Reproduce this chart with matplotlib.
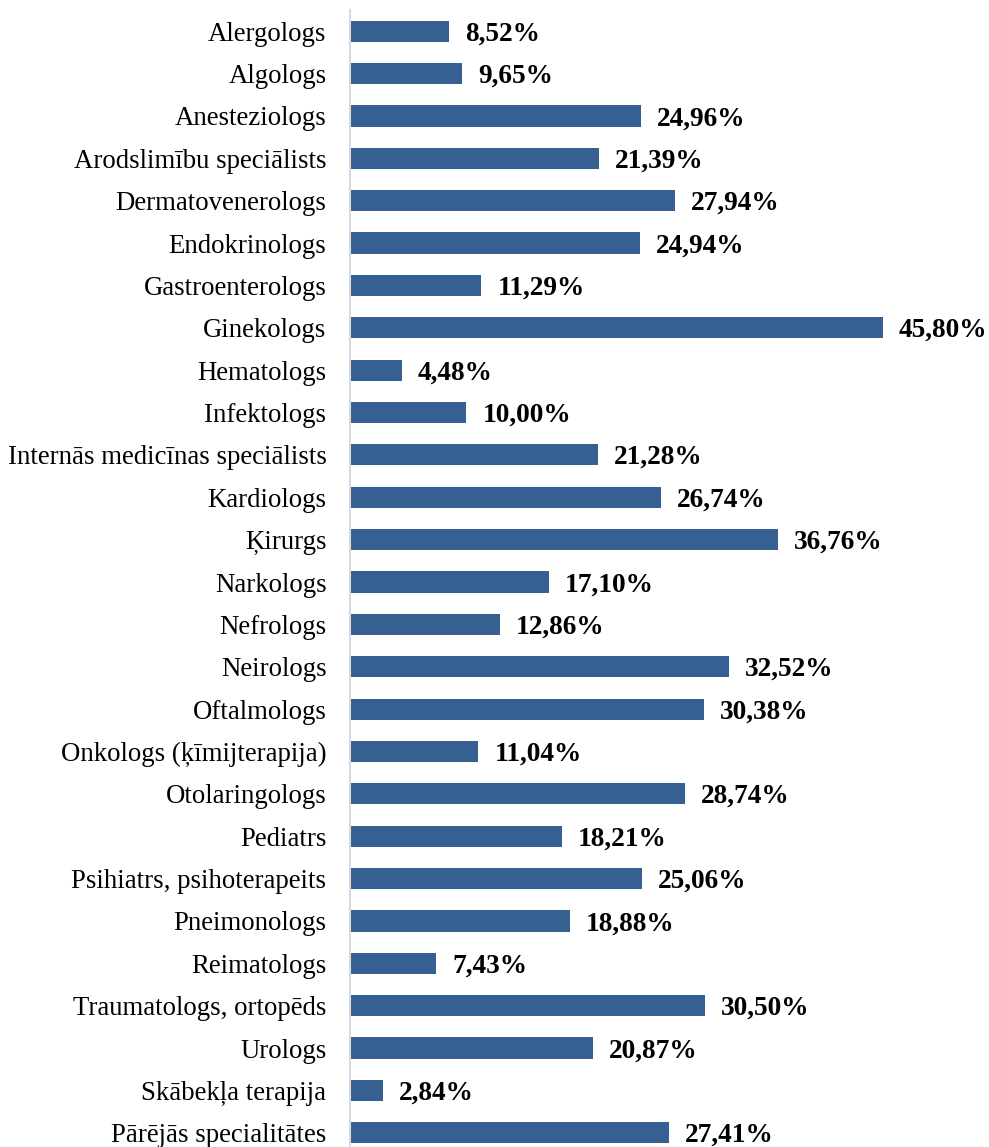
import numpy as np
import matplotlib.pyplot as plt

categories = [
    "Alergologs", "Algologs", "Anesteziologs", "Arodslimību speciālists",
    "Dermatovenerologs", "Endokrinologs", "Gastroenterologs", "Ginekologs",
    "Hematologs", "Infektologs", "Internās medicīnas speciālists", "Kardiologs",
    "Ķirurgs", "Narkologs", "Nefrologs", "Neirologs", "Oftalmologs",
    "Onkologs (ķīmijterapija)", "Otolaringologs", "Pediatrs",
    "Psihiatrs, psihoterapeits", "Pneimonologs", "Reimatologs",
    "Traumatologs, ortopēds", "Urologs", "Skābekļa terapija",
    "Pārējās specialitātes",
]
values = [
    8.52, 9.65, 24.96, 21.39, 27.94, 24.94, 11.29, 45.80, 4.48, 10.00,
    21.28, 26.74, 36.76, 17.10, 12.86, 32.52, 30.38, 11.04, 28.74, 18.21,
    25.06, 18.88, 7.43, 30.50, 20.87, 2.84, 27.41,
]

plt.rcParams['font.family'] = ['Liberation Serif', 'DejaVu Serif']

W, H = 989, 1147
fig = plt.figure(figsize=(W / 100, H / 100), dpi=100)
ax = fig.add_axes([350 / W, -7 / H, 639 / W, 1144 / H])

y = np.arange(len(categories))
ax.barh(y, values, height=0.5, color='#376092')

for yi, v in zip(y, values):
    ax.annotate(f"{v:.2f}%".replace('.', ','), xy=(v, yi), xytext=(11.5, -2),
                textcoords='offset points', va='center', ha='left',
                fontsize=19.7, fontweight='bold')

ax.set_yticks(y)
ax.set_yticklabels(categories, fontsize=19.3)
ax.tick_params(axis='y', length=0, pad=17)
ax.set_xticks([])
ax.set_xlim(0, 54.9)
ax.set_ylim(26.5, -0.5)

for s in ['top', 'right', 'bottom']:
    ax.spines[s].set_visible(False)
ax.spines['left'].set_color('#d9d9d9')
ax.spines['left'].set_linewidth(1.5)

fig.savefig("out.png", dpi=100)
